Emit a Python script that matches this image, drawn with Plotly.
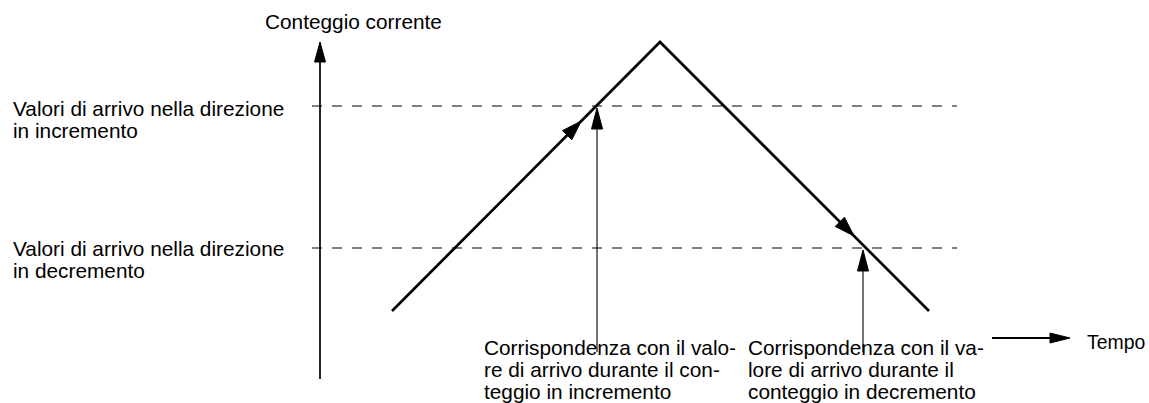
import numpy as np
import plotly.graph_objects as go

# ---- data (time units on x, count units on y; origin at the axes corner) ----
profile_time = [72, 340, 609]        # start, peak, end of the counting profile
profile_count = [68, 337, 68]
target_inc = 273                     # target value, incrementing direction
target_dec = 131                     # target value, decrementing direction
axis_top = 337
match_inc_time = 277
match_dec_time = 543
pointer_base = 27
dir_arrow_inc_count = 258            # where the direction arrow sits on rising leg
dir_arrow_dec_count = 143            # where the direction arrow sits on falling leg
time_arrow = [672, 750]
time_arrow_count = 41
dash_span = [-8, 637]

y_axis_title = "Conteggio corrente"
x_axis_title = "Tempo"
inc_label = ["Valori di arrivo nella direzione", "in incremento"]
dec_label = ["Valori di arrivo nella direzione", "in decremento"]
inc_note = ["Corrispondenza con il valo-", "re di arrivo durante il con-", "teggio in incremento"]
dec_note = ["Corrispondenza con il va-", "lore di arrivo durante il", "conteggio in decremento"]

FAMILY = "Liberation Sans, Arial, Helvetica, sans-serif"
FONT = dict(family=FAMILY, size=20.8, color="black")

fig = go.Figure()


def line(xs, ys, width, color="black", dash=None):
    fig.add_trace(go.Scatter(x=xs, y=ys, mode="lines", hoverinfo="skip",
                             line=dict(color=color, width=width, dash=dash)))


def head(tip_x, tip_y, dx, dy, length, width):
    d = np.array([dx, dy], float)
    d /= np.linalg.norm(d)
    p = np.array([-d[1], d[0]])
    tip = np.array([tip_x, tip_y])
    base = tip - d * length
    a = base + p * width / 2
    b = base - p * width / 2
    fig.add_trace(go.Scatter(x=[tip[0], a[0], b[0], tip[0]], y=[tip[1], a[1], b[1], tip[1]],
                             mode="lines", fill="toself", fillcolor="black", hoverinfo="skip",
                             line=dict(color="black", width=1)))


# dashed target lines
line(dash_span, [target_inc, target_inc], 1.3, "#555555", "10px,10px")
line(dash_span, [target_dec, target_dec], 1.3, "#555555", "10px,10px")

# vertical axis with arrow
line([0, 0], [0, axis_top - 10], 1.7)
head(0, axis_top, 0, 1, 20, 11)

# counting profile
line(profile_time, profile_count, 2.7)


def along(seg, c):
    (t0, c0), (t1, c1) = seg
    return t0 + (c - c0) * (t1 - t0) / (c1 - c0)


rise = ((profile_time[0], profile_count[0]), (profile_time[1], profile_count[1]))
fall = ((profile_time[1], profile_count[1]), (profile_time[2], profile_count[2]))
head(along(rise, dir_arrow_inc_count), dir_arrow_inc_count,
     profile_time[1] - profile_time[0], profile_count[1] - profile_count[0], 20, 13)
head(along(fall, dir_arrow_dec_count), dir_arrow_dec_count,
     profile_time[2] - profile_time[1], profile_count[2] - profile_count[1], 20, 13)

# match pointers
line([match_inc_time, match_inc_time], [pointer_base, target_inc - 12], 1.1)
head(match_inc_time, target_inc - 2, 0, 1, 21, 11)
line([match_dec_time, match_dec_time], [pointer_base, target_dec - 12], 1.1)
head(match_dec_time, target_dec - 2, 0, 1, 21, 11)

# time arrow
line([time_arrow[0], time_arrow[1] - 10], [time_arrow_count, time_arrow_count], 2)
head(time_arrow[1], time_arrow_count, 1, 0, 20, 10)

# ---- texts (baseline positions, converted to middle anchor) ----
MID = 7.3
LINE = 22


def text(t, baseline, s, font=FONT):
    fig.add_annotation(x=t, y=baseline + MID, text=s, showarrow=False, xref="x", yref="y",
                       xanchor="left", yanchor="middle", font=font)


text(-57, 350, y_axis_title)
text(765, 30, x_axis_title, dict(family=FAMILY, size=19.4, color="black"))
for i, s in enumerate(inc_label):
    text(-309, 263 - i * LINE, s)
for i, s in enumerate(dec_label):
    text(-309, 123 - i * LINE, s)
for i, s in enumerate(inc_note):
    text(162, 24 - i * LINE, s)
for i, s in enumerate(dec_note):
    text(426, 24 - i * LINE, s)

fig.update_layout(
    width=1149, height=403, margin=dict(l=0, r=0, t=0, b=0),
    paper_bgcolor="white", plot_bgcolor="white", showlegend=False,
    xaxis=dict(range=[-320, 829], visible=False, fixedrange=True),
    yaxis=dict(range=[-24, 379], visible=False, fixedrange=True),
)

fig.write_html("out.html", config={"displayModeBar": False},
               post_script="document.body.style.margin='0';document.body.style.overflow='hidden';")
